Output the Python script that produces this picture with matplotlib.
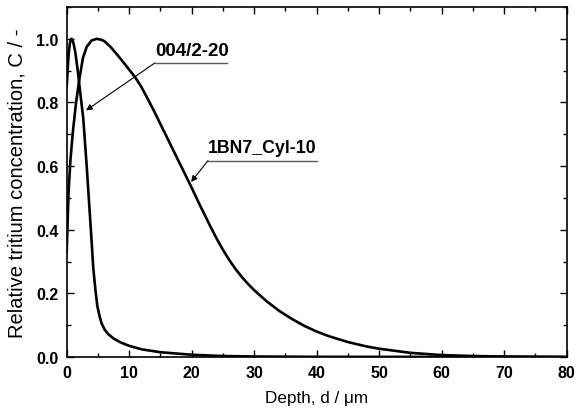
import matplotlib
matplotlib.use("Agg")
import matplotlib.pyplot as plt
from matplotlib.ticker import MultipleLocator

plt.rcParams['font.family'] = ['Liberation Sans', 'DejaVu Sans']

# 004/2-20 (narrow profile)
depth_a = [0, 0.15, 0.3, 0.5, 0.7, 0.9, 1.1, 1.4, 1.8, 2.2, 2.65, 3.2, 3.6, 3.9, 4.25,
           4.6, 4.9, 5.3, 5.6, 6.1, 6.65, 7.5, 8.5, 10, 12, 15, 20, 25, 30, 40, 80]
conc_a = [0.85, 0.9, 0.95, 0.985, 1.0, 0.998, 0.985, 0.955, 0.895, 0.825, 0.75, 0.60,
          0.48, 0.39, 0.28, 0.21, 0.16, 0.125, 0.105, 0.085, 0.072, 0.058, 0.047,
          0.035, 0.024, 0.015, 0.007, 0.003, 0.0015, 0.0005, 0.0]

# 1BN7_Cyl-10 (broad profile)
depth_b = [0, 0.3, 0.6, 1.0, 1.5, 2.0, 2.6, 3.2, 4.0, 4.8, 5.5, 6, 7, 8, 9, 10, 11,
           12, 13, 14, 15, 16, 17, 18, 19, 20, 21, 22, 23, 24, 25, 26, 27, 28, 29,
           30, 32, 34, 36, 38, 40, 42, 45, 48, 50, 55, 60, 65, 70, 80]
conc_b = [0.33, 0.52, 0.62, 0.71, 0.80, 0.87, 0.94, 0.975, 0.995, 1.0, 0.997, 0.993,
          0.975, 0.952, 0.928, 0.903, 0.878, 0.847, 0.81, 0.772, 0.732, 0.692, 0.652,
          0.612, 0.572, 0.532, 0.49, 0.45, 0.41, 0.372, 0.337, 0.305, 0.277, 0.252,
          0.23, 0.21, 0.175, 0.145, 0.12, 0.098, 0.08, 0.065, 0.047, 0.033, 0.026,
          0.013, 0.006, 0.003, 0.0015, 0.0]

fig = plt.figure(figsize=(5.77, 4.14), dpi=100)
ax = fig.add_axes([0.1156, 0.1353, 0.8664, 0.8454])

ax.plot(depth_a, conc_a, color="black", lw=1.9)
ax.plot(depth_b, conc_b, color="black", lw=1.9)

ax.set_xlim(0, 80)
ax.set_ylim(0, 1.1)
ax.xaxis.set_major_locator(MultipleLocator(10))
ax.xaxis.set_minor_locator(MultipleLocator(5))
ax.yaxis.set_major_locator(MultipleLocator(0.2))
ax.yaxis.set_minor_locator(MultipleLocator(0.1))
ax.yaxis.set_major_formatter(lambda v, p: f"{v:.1f}")
ax.tick_params(which="both", direction="in", top=True, right=True, width=1.0)
ax.tick_params(which="major", length=5, pad=6, labelsize=11.5)
ax.tick_params(which="minor", length=3)
for lab in ax.get_xticklabels() + ax.get_yticklabels():
    lab.set_fontweight("bold")
for s in ax.spines.values():
    s.set_linewidth(1.2)

ax.set_xlabel("Depth, d / \u03bcm", fontsize=12.3, labelpad=7)
ax.set_ylabel("Relative tritium concentration, C / -", fontsize=14.5)
ax.yaxis.set_label_coords(-0.08, 0.5)

# annotations with underline leaders
ax.plot([14.1, 25.6], [0.924, 0.924], color="0.35", lw=1.0)
ax.annotate("", xy=(3.1, 0.775), xytext=(14.1, 0.924),
            arrowprops=dict(arrowstyle="-|>", color="black", lw=0.8,
                            mutation_scale=9, shrinkA=0, shrinkB=0))
ax.text(14.1, 0.938, "004/2-20", fontsize=13.5, fontweight="bold", va="bottom", ha="left")

ax.plot([22.6, 40.0], [0.617, 0.617], color="0.35", lw=1.0)
ax.annotate("", xy=(19.9, 0.55), xytext=(22.6, 0.617),
            arrowprops=dict(arrowstyle="-|>", color="black", lw=0.8,
                            mutation_scale=9, shrinkA=0, shrinkB=0))
ax.text(22.6, 0.631, "1BN7_Cyl-10", fontsize=12.8, fontweight="bold", va="bottom", ha="left")

fig.savefig("out.png", dpi=100)
